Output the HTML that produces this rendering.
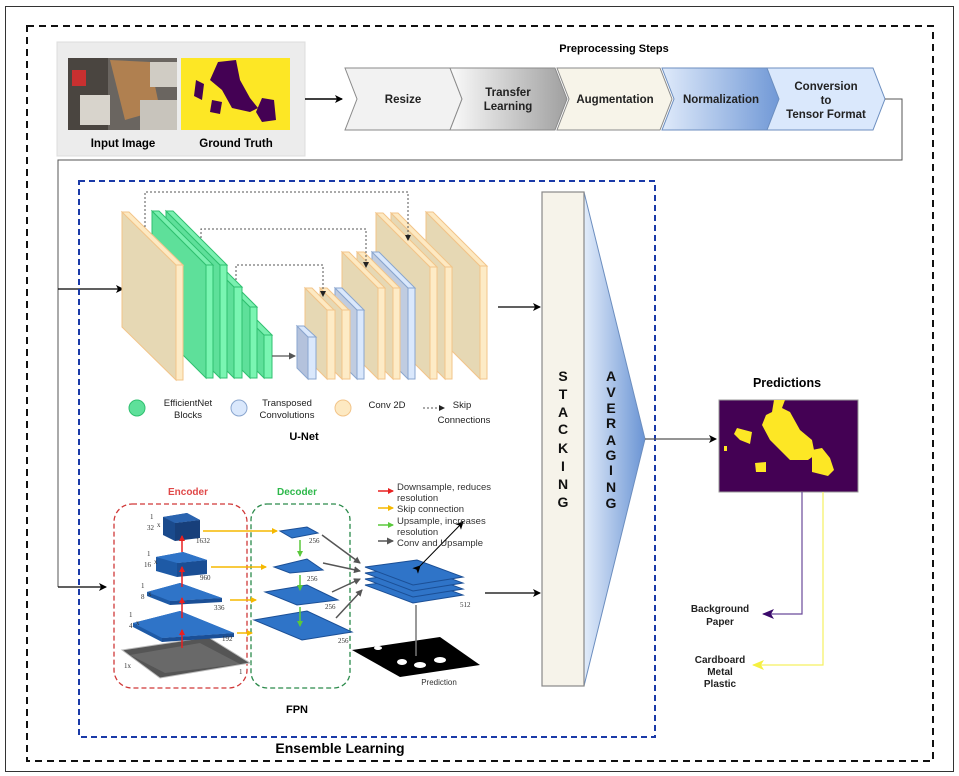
<!DOCTYPE html>
<html><head><meta charset="utf-8"><style>
html,body{margin:0;padding:0;background:#fff}
svg{display:block;font-family:"Liberation Sans",Arial,sans-serif}
</style></head><body>
<svg width="959" height="776" viewBox="0 0 959 776" xmlns="http://www.w3.org/2000/svg">
<defs>
<linearGradient id="gTr" x1="0" x2="1"><stop offset="0" stop-color="#fafafa"/><stop offset="1" stop-color="#a0a0a0"/></linearGradient>
<linearGradient id="gNo" x1="0" x2="1"><stop offset="0" stop-color="#dfeafa"/><stop offset="1" stop-color="#7098d6"/></linearGradient>
<linearGradient id="gAv" x1="0" x2="1"><stop offset="0" stop-color="#e2ecfa"/><stop offset="1" stop-color="#6a94d4"/></linearGradient>
<marker id="ah" markerWidth="8" markerHeight="8" refX="7" refY="4" orient="auto" markerUnits="userSpaceOnUse"><path d="M0,0 L8,4 L0,8 L2,4z" fill="#000"/></marker>
<marker id="ahg" markerWidth="7" markerHeight="7" refX="6" refY="3.5" orient="auto" markerUnits="userSpaceOnUse"><path d="M0,0 L7,3.5 L0,7z" fill="#555"/></marker>
<marker id="ahr" markerWidth="6" markerHeight="6" refX="5" refY="3" orient="auto" markerUnits="userSpaceOnUse"><path d="M0,0 L6,3 L0,6z" fill="#e82020"/></marker>
<marker id="ahy" markerWidth="6" markerHeight="6" refX="5" refY="3" orient="auto" markerUnits="userSpaceOnUse"><path d="M0,0 L6,3 L0,6z" fill="#f5b800"/></marker>
<marker id="ahgr" markerWidth="6" markerHeight="6" refX="5" refY="3" orient="auto" markerUnits="userSpaceOnUse"><path d="M0,0 L6,3 L0,6z" fill="#5ac83c"/></marker>
<marker id="ahp" markerWidth="12" markerHeight="10" refX="11" refY="5" orient="auto" markerUnits="userSpaceOnUse"><path d="M0,0 L12,5 L0,10 L3,5z" fill="#3a0a6a"/></marker>
<marker id="ahyl" markerWidth="12" markerHeight="10" refX="11" refY="5" orient="auto" markerUnits="userSpaceOnUse"><path d="M0,0 L12,5 L0,10 L3,5z" fill="#f5f040"/></marker>
<marker id="ahs" markerWidth="6" markerHeight="6" refX="5" refY="3" orient="auto" markerUnits="userSpaceOnUse"><path d="M0,0 L6,3 L0,6z" fill="#222"/></marker>
</defs>

<!-- outer borders -->
<rect x="5.5" y="6.5" width="948" height="765" fill="none" stroke="#333" stroke-width="1"/>
<rect x="27" y="26" width="906" height="735" fill="none" stroke="#111" stroke-width="2" stroke-dasharray="7,5"/>

<!-- input panel -->
<rect x="57" y="42" width="248" height="114" fill="#ececec" stroke="#ddd"/>
<rect x="68" y="58" width="109" height="72" fill="#6a6560"/>
<rect x="68" y="58" width="40" height="72" fill="#4a4540"/>
<polygon points="110,60 150,62 160,110 125,120" fill="#b08050"/>
<rect x="72" y="70" width="14" height="16" fill="#c83030"/>
<rect x="80" y="95" width="30" height="30" fill="#d8d4cc"/>
<rect x="140" y="100" width="37" height="30" fill="#c8c4bc"/>
<rect x="150" y="62" width="27" height="25" fill="#d0ccc4"/>
<rect x="181" y="58" width="109" height="72" fill="#fde725"/>
<polygon points="218,62 236,60 240,80 250,98 258,108 250,112 232,108 222,90 210,80" fill="#440154"/>
<polygon points="196,80 204,84 202,100 194,96" fill="#440154"/>
<polygon points="262,98 274,100 276,120 262,122 256,112" fill="#440154"/>
<polygon points="212,100 222,102 220,114 210,112" fill="#440154"/>
<text x="123" y="147" font-size="11.5" font-weight="bold" text-anchor="middle">Input Image</text>
<text x="236" y="147" font-size="11.5" font-weight="bold" text-anchor="middle">Ground Truth</text>
<line x1="305" y1="99" x2="342" y2="99" stroke="#000" stroke-width="1.5" marker-end="url(#ah)"/>

<text x="614" y="52" font-size="11" font-weight="bold" text-anchor="middle">Preprocessing Steps</text>
<g stroke="#8a8a8a" stroke-width="1">
<polygon points="345,68 450,68 462,99 450,130 345,130 357,99" fill="#f2f2f2"/>
<polygon points="450,68 555,68 567,99 555,130 450,130 462,99" fill="url(#gTr)"/>
<polygon points="557,68 660,68 672,99 660,130 557,130 569,99" fill="#f7f4e9"/>
<polygon points="662,68 768,68 780,99 768,130 662,130 674,99" fill="url(#gNo)" stroke="#6c8ebf"/>
<polygon points="767,68 873,68 885,99 873,130 767,130 779,99" fill="#dae8fc" stroke="#6c8ebf"/>
</g>
<g font-size="11.5" font-weight="bold" text-anchor="middle" fill="#222">
<text x="403" y="103">Resize</text>
<text x="508" y="96">Transfer</text><text x="508" y="110">Learning</text>
<text x="615" y="103">Augmentation</text>
<text x="721" y="103">Normalization</text>
<text x="826" y="90">Conversion</text><text x="826" y="104">to</text><text x="826" y="118">Tensor Format</text>
</g>
<polyline points="885,99 902,99 902,160 58,160 58,587" fill="none" stroke="#555" stroke-width="1"/>
<line x1="58" y1="289" x2="123" y2="289" stroke="#000" stroke-width="1.2" marker-end="url(#ah)"/>
<line x1="58" y1="587" x2="106" y2="587" stroke="#000" stroke-width="1.2" marker-end="url(#ah)"/>

<!-- blue dashed ensemble box -->
<rect x="79" y="181" width="576" height="556" fill="none" stroke="#1a3aa8" stroke-width="2" stroke-dasharray="6,4"/>

<!-- U-Net layers (drawn back to front: right to left) -->
<g stroke-width="1">
<!-- G -->
<polygon points="426,212 480,266 480,379 426,325" fill="#e6d8b4" stroke="#f2c489"/><polygon points="426,212 433,212 487,266 480,266" fill="#fde9c2" stroke="#f2c489"/><rect x="480" y="266" width="7" height="113" fill="#fdebc6" stroke="#f2c489"/>
<!-- F -->
<polygon points="391,213 445,267 445,379 391,325" fill="#e6d8b4" stroke="#f2c489"/><polygon points="391,213 398,213 452,267 445,267" fill="#fde9c2" stroke="#f2c489"/><rect x="445" y="267" width="7" height="112" fill="#fdebc6" stroke="#f2c489"/>
<!-- E -->
<polygon points="376,213 430,267 430,379 376,325" fill="#e6d8b4" stroke="#f2c489"/><polygon points="376,213 383,213 437,267 430,267" fill="#fde9c2" stroke="#f2c489"/><rect x="430" y="267" width="7" height="112" fill="#fdebc6" stroke="#f2c489"/>
<!-- blue 2 -->
<polygon points="372,252 408,288 408,379 372,343" fill="#c0cce0" stroke="#8aa6cf"/><polygon points="372,252 379,252 415,288 408,288" fill="#dae8fc" stroke="#8aa6cf"/><rect x="408" y="288" width="7" height="91" fill="#dae8fc" stroke="#8aa6cf"/>
<!-- D -->
<polygon points="357,252 393,288 393,379 357,343" fill="#e6d8b4" stroke="#f2c489"/><polygon points="357,252 364,252 400,288 393,288" fill="#fde9c2" stroke="#f2c489"/><rect x="393" y="288" width="7" height="91" fill="#fdebc6" stroke="#f2c489"/>
<!-- C -->
<polygon points="342,252 378,288 378,379 342,343" fill="#e6d8b4" stroke="#f2c489"/><polygon points="342,252 349,252 385,288 378,288" fill="#fde9c2" stroke="#f2c489"/><rect x="378" y="288" width="7" height="91" fill="#fdebc6" stroke="#f2c489"/>
<!-- blue 1 -->
<polygon points="335,288 357,310 357,379 335,357" fill="#c0cce0" stroke="#8aa6cf"/><polygon points="335,288 342,288 364,310 357,310" fill="#dae8fc" stroke="#8aa6cf"/><rect x="357" y="310" width="7" height="69" fill="#dae8fc" stroke="#8aa6cf"/>
<!-- B -->
<polygon points="320,288 342,310 342,379 320,357" fill="#e6d8b4" stroke="#f2c489"/><polygon points="320,288 327,288 349,310 342,310" fill="#fde9c2" stroke="#f2c489"/><rect x="342" y="310" width="8" height="69" fill="#fdebc6" stroke="#f2c489"/>
<!-- A -->
<polygon points="305,288 327,310 327,379 305,357" fill="#e6d8b4" stroke="#f2c489"/><polygon points="305,288 312,288 334,310 327,310" fill="#fde9c2" stroke="#f2c489"/><rect x="327" y="310" width="8" height="69" fill="#fdebc6" stroke="#f2c489"/>
<!-- small blue -->
<polygon points="297,326 308,337 308,379 297,368" fill="#b4c2dc" stroke="#8aa6cf"/><rect x="308" y="337" width="8" height="42" fill="#dae8fc" stroke="#8aa6cf"/><polygon points="297,326 304,326 316,337 308,337" fill="#dae8fc" stroke="#8aa6cf"/>
<!-- green encoder, back to front -->
<polygon points="210,281 264,335 264,378 210,324" fill="#5ee09a" stroke="#30c070"/><polygon points="210,281 218,281 272,335 264,335" fill="#7af0b0" stroke="#30c070"/><rect x="264" y="335" width="8" height="43" fill="#7af5b2" stroke="#30c070"/>
<polygon points="196,253 250,307 250,378 196,324" fill="#5ee09a" stroke="#30c070"/><polygon points="196,253 203,253 257,307 250,307" fill="#7af0b0" stroke="#30c070"/><rect x="250" y="307" width="7" height="71" fill="#7af5b2" stroke="#30c070"/>
<polygon points="180,233 234,287 234,378 180,324" fill="#5ee09a" stroke="#30c070"/><polygon points="180,233 188,233 242,287 234,287" fill="#7af0b0" stroke="#30c070"/><rect x="234" y="287" width="8" height="91" fill="#7af5b2" stroke="#30c070"/>
<polygon points="166,211 220,265 220,378 166,324" fill="#5ee09a" stroke="#30c070"/><polygon points="166,211 173,211 227,265 220,265" fill="#7af0b0" stroke="#30c070"/><rect x="220" y="265" width="7" height="113" fill="#7af5b2" stroke="#30c070"/>
<polygon points="152,211 206,265 206,378 152,324" fill="#5ee09a" stroke="#30c070"/><polygon points="152,211 159,211 213,265 206,265" fill="#7af0b0" stroke="#30c070"/><rect x="206" y="265" width="7" height="113" fill="#7af5b2" stroke="#30c070"/>
<!-- big beige -->
<polygon points="122,212 176,265 176,380 122,327" fill="#e6d8b4" stroke="#f2c489"/><polygon points="122,212 129,212 183,265 176,265" fill="#fde9c2" stroke="#f2c489"/><rect x="176" y="265" width="7" height="115" fill="#fdebc6" stroke="#f2c489"/>
</g>
<!-- skip connections -->
<g fill="none" stroke="#555" stroke-width="1" stroke-dasharray="2,2">
<polyline points="145,227 145,192 408,192 408,240" marker-end="url(#ahs)"/>
<polyline points="201,238 201,229 366,229 366,267" marker-end="url(#ahs)"/>
<polyline points="236,280 236,265 323,265 323,296" marker-end="url(#ahs)"/>
</g>
<line x1="272" y1="356" x2="295" y2="356" stroke="#555" stroke-width="1.2" marker-end="url(#ahg)"/>
<line x1="498" y1="307" x2="540" y2="307" stroke="#000" stroke-width="1.2" marker-end="url(#ah)"/>
<!-- legend -->
<circle cx="137" cy="408" r="8" fill="#5ee09a" stroke="#30c070"/>
<circle cx="239" cy="408" r="8" fill="#dae8fc" stroke="#8aa6cf"/>
<circle cx="343" cy="408" r="8" fill="#fde9c2" stroke="#f2c489"/>
<g font-size="9.5" text-anchor="middle" fill="#222">
<text x="188" y="406">EfficientNet</text><text x="188" y="418">Blocks</text>
<text x="287" y="406">Transposed</text><text x="287" y="418">Convolutions</text>
<text x="387" y="408">Conv 2D</text>
<text x="462" y="408">Skip</text><text x="464" y="423">Connections</text>
</g>
<line x1="423" y1="408" x2="444" y2="408" stroke="#555" stroke-dasharray="2,2" marker-end="url(#ahs)"/>
<text x="304" y="440" font-size="11" font-weight="bold" text-anchor="middle">U-Net</text>

<!-- FPN -->
<text x="188" y="495" font-size="10" font-weight="bold" fill="#e04848" text-anchor="middle">Encoder</text>
<text x="297" y="495" font-size="10" font-weight="bold" fill="#2db84a" text-anchor="middle">Decoder</text>
<rect x="114" y="504" width="133" height="184" rx="18" fill="none" stroke="#d03838" stroke-width="1.3" stroke-dasharray="5,3"/>
<rect x="251" y="504" width="99" height="184" rx="16" fill="none" stroke="#2a8a4a" stroke-width="1.3" stroke-dasharray="5,3"/>
<polygon points="122,650 208,637 250,663 160,678" fill="#555" stroke="#bbb"/>
<polygon points="130,655 200,643 240,664 165,673" fill="#777" opacity="0.6"/>
<!-- encoder plates -->
<polygon points="133,623 180,611 234,633 162,638 162,642 133,627" fill="#1e5aa6"/><polygon points="162,638 234,633 234,637 162,642" fill="#1b4f96"/><polygon points="133,623 180,611 234,633 162,638" fill="#2f74c8"/>
<polygon points="147,592 180,583 222,598 170,601 170,605 147,596" fill="#1e5aa6"/><polygon points="170,601 222,598 222,602 170,605" fill="#1b4f96"/><polygon points="147,592 180,583 222,598 170,601" fill="#2f74c8"/>
<polygon points="156,557 183,552 207,560 177,563 177,577 156,571" fill="#1e5aa6"/><polygon points="177,563 207,560 207,574 177,577" fill="#1a4e94"/><polygon points="156,557 183,552 207,560 177,563" fill="#2f74c8"/>
<polygon points="163,517 187,513 200,520 175,523 175,541 163,535" fill="#1a4a8c"/><polygon points="175,523 200,520 200,538 175,541" fill="#173f7a"/><polygon points="163,517 187,513 200,520 175,523" fill="#2a64b0"/>
<!-- decoder plates -->
<g fill="#2f74c8" stroke="#1b4f96" stroke-width="1">
<polygon points="280,531 307,527 318,533 292,538"/>
<polygon points="274,567 307,559 323,570 290,573"/>
<polygon points="265,592 307,585 338,600 297,605"/>
<polygon points="254,620 307,611 352,632 302,640"/>
</g>
<!-- output stack -->
<g fill="#2f74c8" stroke="#1b4f96" stroke-width="1">
<polygon points="365,585 417,578 463,595 413,603"/>
<polygon points="365,579 417,572 463,589 413,597"/>
<polygon points="365,573 417,566 463,583 413,591"/>
<polygon points="365,567 417,560 463,577 413,585"/>
</g>
<polygon points="352,650 440,637 480,665 400,677" fill="#000"/>
<ellipse cx="402" cy="662" rx="5" ry="3" fill="#fff"/><ellipse cx="420" cy="665" rx="6" ry="3" fill="#fff"/><ellipse cx="440" cy="660" rx="6" ry="3" fill="#fff"/><ellipse cx="378" cy="648" rx="4" ry="2" fill="#fff"/>
<line x1="416" y1="605" x2="416" y2="656" stroke="#777" stroke-width="1.5"/>
<line x1="420" y1="566" x2="463" y2="522" stroke="#000" stroke-width="1" marker-end="url(#ah)" marker-start="url(#ah)"/>
<!-- fpn arrows -->
<g stroke-width="1.5">
<line x1="182" y1="648" x2="182" y2="630" stroke="#e82020" marker-end="url(#ahr)"/>
<line x1="182" y1="618" x2="182" y2="598" stroke="#e82020" marker-end="url(#ahr)"/>
<line x1="182" y1="587" x2="182" y2="567" stroke="#e82020" marker-end="url(#ahr)"/>
<line x1="182" y1="552" x2="182" y2="536" stroke="#e82020" marker-end="url(#ahr)"/>
<line x1="203" y1="531" x2="277" y2="531" stroke="#f5b800" marker-end="url(#ahy)"/>
<line x1="211" y1="567" x2="266" y2="567" stroke="#f5b800" marker-end="url(#ahy)"/>
<line x1="230" y1="600" x2="256" y2="600" stroke="#f5b800" marker-end="url(#ahy)"/>
<line x1="237" y1="633" x2="252" y2="633" stroke="#f5b800" marker-end="url(#ahy)"/>
<line x1="300" y1="540" x2="300" y2="556" stroke="#5ac83c" marker-end="url(#ahgr)"/>
<line x1="300" y1="575" x2="300" y2="590" stroke="#5ac83c" marker-end="url(#ahgr)"/>
<line x1="300" y1="607" x2="300" y2="626" stroke="#5ac83c" marker-end="url(#ahgr)"/>
<line x1="322" y1="535" x2="360" y2="563" stroke="#555" marker-end="url(#ahg)"/>
<line x1="323" y1="563" x2="360" y2="571" stroke="#555" marker-end="url(#ahg)"/>
<line x1="332" y1="592" x2="360" y2="579" stroke="#555" marker-end="url(#ahg)"/>
<line x1="336" y1="618" x2="362" y2="590" stroke="#555" marker-end="url(#ahg)"/>
<line x1="378" y1="491" x2="393" y2="491" stroke="#e82020" marker-end="url(#ahr)"/>
<line x1="378" y1="508" x2="393" y2="508" stroke="#f5b800" marker-end="url(#ahy)"/>
<line x1="378" y1="525" x2="393" y2="525" stroke="#5ac83c" marker-end="url(#ahgr)"/>
<line x1="378" y1="541" x2="393" y2="541" stroke="#555" marker-end="url(#ahg)"/>
</g>
<g font-size="9.5" fill="#333">
<text x="397" y="490">Downsample, reduces</text><text x="397" y="501">resolution</text>
<text x="397" y="512">Skip connection</text>
<text x="397" y="524">Upsample, increases</text><text x="397" y="535">resolution</text>
<text x="397" y="546">Conv and Upsample</text>
</g>
<g font-size="7" fill="#333" font-family="Liberation Serif,serif">
<text x="196" y="543">1632</text><text x="200" y="580">960</text><text x="214" y="610">336</text><text x="222" y="641">192</text><text x="239" y="674">1</text>
<text x="309" y="543">256</text><text x="307" y="581">256</text><text x="325" y="609">256</text><text x="338" y="643">256</text><text x="460" y="607">512</text>
<text x="150" y="519">1</text><text x="147" y="530">32</text><text x="157" y="527">x</text>
<text x="147" y="556">1</text><text x="144" y="567">16</text><text x="154" y="564">x</text>
<text x="141" y="588">1</text><text x="141" y="599">8</text><text x="148" y="596">x</text>
<text x="129" y="617">1</text><text x="129" y="628">4</text><text x="136" y="625">x</text>
<text x="124" y="668">1x</text>
</g>
<text x="439" y="685" font-size="8" fill="#333" text-anchor="middle">Prediction</text>
<text x="297" y="713" font-size="11" font-weight="bold" text-anchor="middle">FPN</text>
<line x1="485" y1="593" x2="540" y2="593" stroke="#000" stroke-width="1.2" marker-end="url(#ah)"/>

<text x="340" y="753" font-size="14" font-weight="bold" text-anchor="middle">Ensemble Learning</text>

<!-- stacking / averaging -->
<polygon points="584,192 645,439 584,686" fill="url(#gAv)" stroke="#6c8ebf"/>
<rect x="542" y="192" width="42" height="494" fill="#f6f3ea" stroke="#888" stroke-width="1.2"/>
<g font-size="14" font-weight="bold" text-anchor="middle" fill="#111">
<text x="563" y="381">S</text><text x="563" y="399">T</text><text x="563" y="417">A</text><text x="563" y="434">C</text><text x="563" y="453">K</text><text x="563" y="471">I</text><text x="563" y="489">N</text><text x="563" y="507">G</text>
<text x="611" y="381">A</text><text x="611" y="397">V</text><text x="611" y="413">E</text><text x="611" y="428">R</text><text x="611" y="445">A</text><text x="611" y="460">G</text><text x="611" y="475">I</text><text x="611" y="492">N</text><text x="611" y="508">G</text>
</g>
<line x1="645" y1="439" x2="716" y2="439" stroke="#555" stroke-width="1.2" marker-end="url(#ah)"/>

<!-- predictions -->
<text x="787" y="387" font-size="12.5" font-weight="bold" text-anchor="middle">Predictions</text>
<rect x="719" y="400" width="139" height="92" fill="#440154" stroke="#999"/>
<polygon points="774,400 785,400 782,408 790,412 800,430 812,440 815,455 808,460 790,460 780,450 770,440 762,425 766,415 772,412" fill="#fde725"/>
<polygon points="737,428 752,432 750,444 740,440 734,434" fill="#fde725"/>
<polygon points="812,450 822,448 830,458 834,470 828,476 812,472" fill="#fde725"/>
<polygon points="755,463 766,462 766,472 756,472" fill="#fde725"/>
<rect x="724" y="446" width="3" height="5" fill="#fde725"/>
<polyline points="802,492 802,614 763,614" fill="none" stroke="#6a4a9a" stroke-width="1.2" marker-end="url(#ahp)"/>
<polyline points="823,492 823,665 753,665" fill="none" stroke="#f5f060" stroke-width="1.2" marker-end="url(#ahyl)"/>
<g font-size="10" font-weight="bold" text-anchor="middle" fill="#222">
<text x="720" y="612">Background</text><text x="720" y="625">Paper</text>
<text x="720" y="663">Cardboard</text><text x="720" y="675">Metal</text><text x="720" y="687">Plastic</text>
</g>
</svg>
</body></html>
